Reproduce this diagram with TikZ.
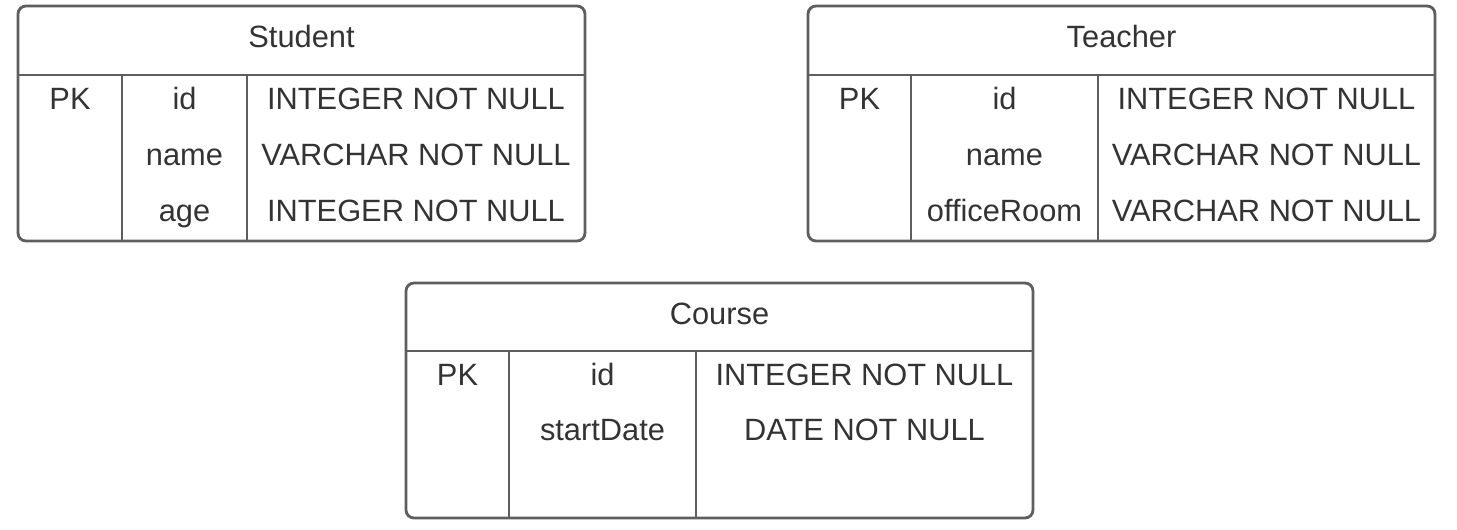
\documentclass[tikz,border=0pt]{standalone}
\usepackage{fontspec}
\setmainfont{Liberation Sans}
\definecolor{linegray}{HTML}{5E5E5E}
\definecolor{txtgray}{HTML}{333333}
\begin{document}
\begin{tikzpicture}[x=1pt,y=-1pt,
  frame/.style={draw=linegray,line width=2.8pt,rounded corners=8pt},
  sep/.style={draw=linegray,line width=2.8pt},
  cell/.style={anchor=base,inner sep=0pt,text=txtgray,font=\fontsize{30.8}{31}\selectfont}]
\useasboundingbox (0,0) rectangle (1457,530);
% ---------- Student ----------
\draw[frame] (18,6) rectangle (585,241);
\draw[sep] (18,75) -- (585,75);
\draw[sep] (122,75) -- (122,241);
\draw[sep] (247,75) -- (247,241);
\node[cell] (s-title) at (301.5,47) {Student};
\node[cell] (s-pk) at (70,109) {PK};
\node[cell] (s-id) at (184.5,109) {id};
\node[cell] (s-name) at (184.5,165) {name};
\node[cell] (s-age) at (184.5,221) {age};
\node[cell] (s-t1) at (416,109) {INTEGER NOT NULL};
\node[cell] (s-t2) at (416,165) {VARCHAR NOT NULL};
\node[cell] (s-t3) at (416,221) {INTEGER NOT NULL};
% ---------- Teacher ----------
\draw[frame] (808,6) rectangle (1435,241);
\draw[sep] (808,75) -- (1435,75);
\draw[sep] (911,75) -- (911,241);
\draw[sep] (1098,75) -- (1098,241);
\node[cell] (t-title) at (1121.5,47) {Teacher};
\node[cell] (t-pk) at (859.5,109) {PK};
\node[cell] (t-id) at (1004.5,109) {id};
\node[cell] (t-name) at (1004.5,165) {name};
\node[cell] (t-room) at (1004.5,221) {officeRoom};
\node[cell] (t-t1) at (1266.5,109) {INTEGER NOT NULL};
\node[cell] (t-t2) at (1266.5,165) {VARCHAR NOT NULL};
\node[cell] (t-t3) at (1266.5,221) {VARCHAR NOT NULL};
% ---------- Course ----------
\draw[frame] (406,283) rectangle (1033,518);
\draw[sep] (406,351) -- (1033,351);
\draw[sep] (509,351) -- (509,518);
\draw[sep] (696,351) -- (696,518);
\node[cell] (c-title) at (719.5,324) {Course};
\node[cell] (c-pk) at (457.5,385) {PK};
\node[cell] (c-id) at (602.5,385) {id};
\node[cell] (c-date) at (602.5,440) {startDate};
\node[cell] (c-t1) at (864.5,385) {INTEGER NOT NULL};
\node[cell] (c-t2) at (864.5,440) {DATE NOT NULL};
\end{tikzpicture}
\end{document}
